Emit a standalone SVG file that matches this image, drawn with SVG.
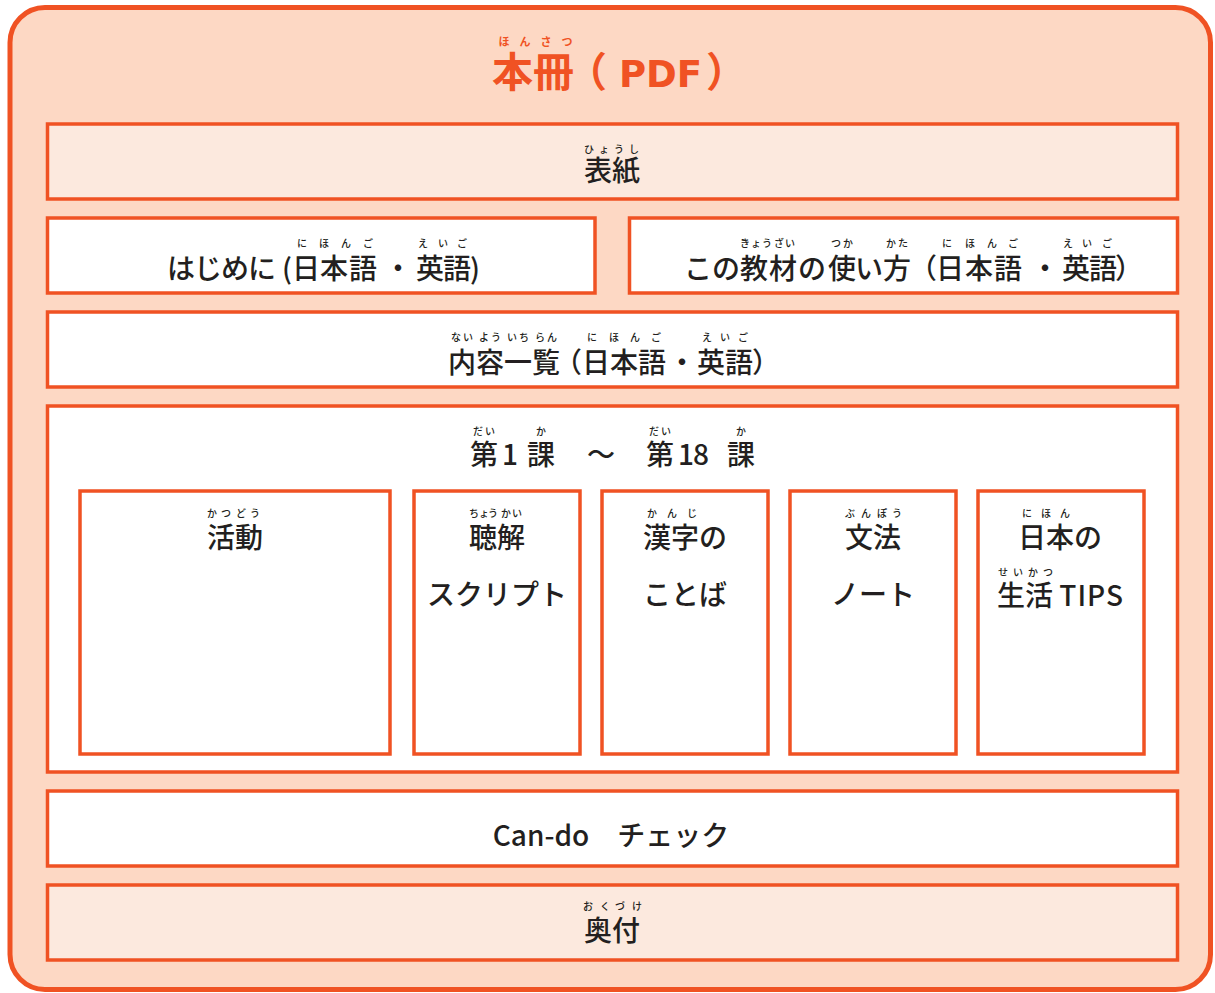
<svg xmlns="http://www.w3.org/2000/svg" width="1215" height="993" viewBox="0 0 1215 993">
<style>
.box{fill:#ffffff;stroke:#F05223;stroke-width:3.5}
.light{fill:#FCE9DE}
.t{font-family:'Noto Sans CJK JP',sans-serif;font-size:28px;font-weight:500;fill:#231F20;text-anchor:middle}
.r{font-family:'Noto Sans CJK JP',sans-serif;font-size:10px;font-weight:500;fill:#231F20;text-anchor:middle}
.lat{font-family:'Noto Sans CJK JP',sans-serif;font-size:28px;font-weight:500;fill:#231F20}
</style>
<rect x="10" y="7.5" width="1200.5" height="982" rx="35" fill="#FDD8C4" stroke="#F05223" stroke-width="5"/>
<g id="title">
<text x="504 525 546 567" y="46" style="font-family:'Noto Sans CJK JP',sans-serif;font-size:11px;font-weight:bold;fill:#F05223;text-anchor:middle">ほんさつ</text>
<text x="492" y="87" style="font-family:'Noto Sans CJK JP',sans-serif;font-size:41px;font-weight:bold;fill:#F05223">本冊<tspan x="566">（</tspan><tspan x="619" style="font-family:'DejaVu Sans',sans-serif;font-size:37px">PDF</tspan><tspan x="706">）</tspan></text>
</g>
<g id="hyoushi">
<rect class="box light" x="47.5" y="124" width="1130" height="75"/>
<text class="r" x="589 604 619 634" y="153">ひょうし</text>
<text class="t" x="598 626" y="181">表紙</text>
</g>
<g id="hajimeni">
<rect class="box" x="47.5" y="218" width="547.5" height="75"/>
<text class="r" x="302 324 346 368" y="247">にほんご</text>
<text class="r" x="423 443 462" y="247">えいご</text>
<text class="t" x="181 208 235 262 272 287 306 334 363 398 430 457 475" y="279">はじめに (日本語・英語)</text>
</g>
<g id="tsukaikata">
<rect class="box" x="629.5" y="218" width="548" height="75"/>
<text class="r" x="745 756 767 779 790" y="247">きょうざい</text>
<text class="r" x="836 848" y="247">つか</text>
<text class="r" x="891 903" y="247">かた</text>
<text class="r" x="947 970 992 1013" y="247">にほんご</text>
<text class="r" x="1068 1087 1107" y="247">えいご</text>
<text class="t" x="698 726 754 783 812 842 869 897 923 950 979 1008 1045 1076 1103 1129" y="279">この教材の使い方（日本語・英語）</text>
</g>
<g id="naiyou">
<rect class="box" x="47.5" y="312" width="1130" height="75"/>
<text class="r" x="456 468 484 496 512 524 540 552" y="341">ないよういちらん</text>
<text class="r" x="592 614 635 656" y="341">にほんご</text>
<text class="r" x="707 725 743" y="341">えいご</text>
<text class="t" x="462 490 518 546 568 596 624 652 682 711 739 766" y="373">内容一覧（日本語・英語）</text>
</g>
<g id="lessons">
<rect class="box" x="47.5" y="406" width="1130" height="366"/>
<text class="r" x="478 490" y="435">だい</text>
<text class="r" x="541" y="435">か</text>
<text class="r" x="654 666" y="435">だい</text>
<text class="r" x="741" y="435">か</text>
<text class="t" x="484 510 541 570 601 630 660 686 701 741" y="465">第1課　〜　第18課</text>
</g>
<g id="katsudou">
<rect class="box" x="80" y="491" width="310" height="263"/>
<text class="r" x="212 226 241 255" y="517">かつどう</text>
<text class="t" x="221 249" y="548">活動</text>
</g>
<g id="choukai">
<rect class="box" x="414" y="491" width="166" height="263"/>
<text class="r" x="474 484 493 506 517" y="517">ちょうかい</text>
<text class="t" x="483 511" y="548">聴解</text>
<text class="t" x="441 469 497 525 553" y="605">スクリプト</text>
</g>
<g id="kanji">
<rect class="box" x="602" y="491" width="166" height="263"/>
<text class="r" x="652 672 692" y="517">かんじ</text>
<text class="t" x="657 685 713" y="548">漢字の</text>
<text class="t" x="657 685 713" y="605">ことば</text>
</g>
<g id="bunpou">
<rect class="box" x="790" y="491" width="166" height="263"/>
<text class="r" x="850 866 882 897" y="517">ぶんぽう</text>
<text class="t" x="859 887" y="548">文法</text>
<text class="t" x="845 873 901" y="605">ノート</text>
</g>
<g id="nihon">
<rect class="box" x="978" y="491" width="166" height="263"/>
<text class="r" x="1027 1046 1065" y="517">にほん</text>
<text class="t" x="1032 1060 1088" y="548">日本の</text>
<text class="r" x="1003 1018 1033 1048" y="576">せいかつ</text>
<text class="lat" x="997 1025" y="606">生活 <tspan letter-spacing="1">TIPS</tspan></text>
</g>
<g id="cando">
<rect class="box" x="47.5" y="791" width="1130" height="75"/>
<text class="t" x="611" y="846">Can-do　チェック</text>
</g>
<g id="okuduke">
<rect class="box light" x="47.5" y="885" width="1130" height="75"/>
<text class="r" x="588 605 620 637" y="910">おくづけ</text>
<text class="t" x="598 626" y="941">奥付</text>
</g>
</svg>
